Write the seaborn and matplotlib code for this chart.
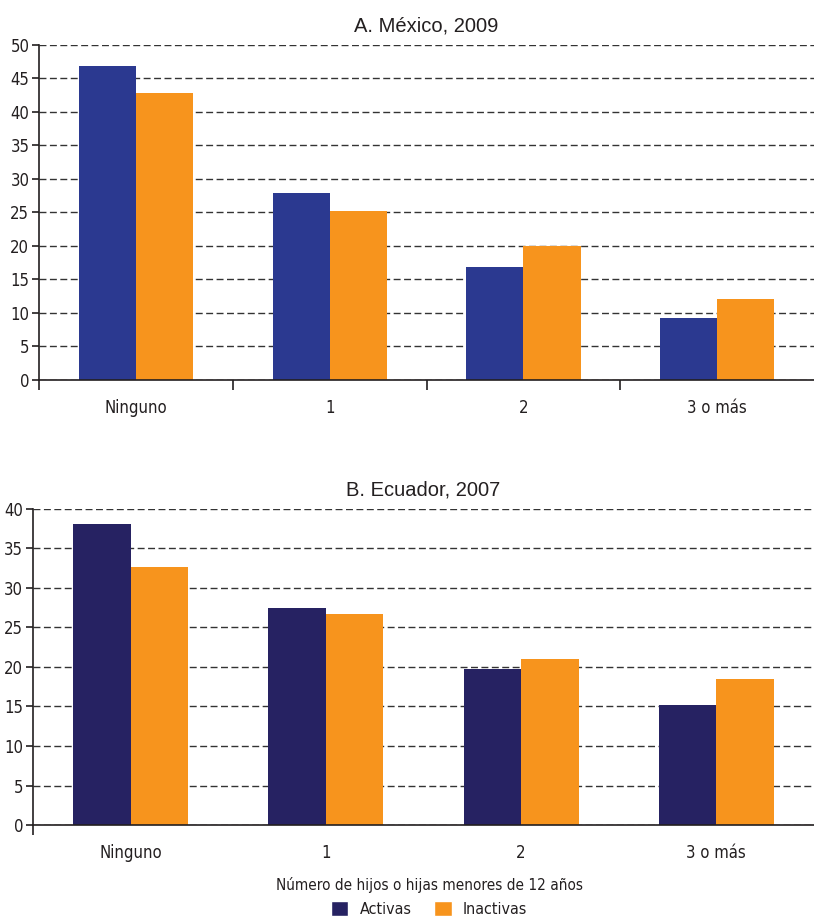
import pandas as pd
import matplotlib.pyplot as plt
import seaborn as sns
from matplotlib.patches import Patch

# Datos
categorias = ['Ninguno', '1', '2', '3 o más']
series = ['Activas', 'Inactivas']
mexico_activas = [46.9, 27.9, 16.9, 9.3]
mexico_inactivas = [42.8, 25.2, 20.0, 12.1]
ecuador_activas = [38.1, 27.5, 19.7, 15.2]
ecuador_inactivas = [32.7, 26.7, 21.0, 18.5]

titulos = ['A. México, 2009', 'B. Ecuador, 2007']
xlabel = 'Número de hijos o hijas menores de 12 años'

AZUL_MX = '#2B3990'
AZUL_EC = '#262262'
NARANJA = '#F7941D'
TEXTO = '#231F20'


def armar_df(activas, inactivas):
    return pd.DataFrame({
        'categoria': categorias * 2,
        'serie': ['Activas'] * 4 + ['Inactivas'] * 4,
        'valor': activas + inactivas,
    })


sns.set_theme(style='white')
plt.rcParams['font.family'] = ['DejaVu Sans']
plt.rcParams['font.stretch'] = 'condensed'
plt.rcParams['text.color'] = TEXTO
plt.rcParams['axes.labelcolor'] = TEXTO
plt.rcParams['xtick.color'] = TEXTO
plt.rcParams['ytick.color'] = TEXTO

fig = plt.figure(figsize=(8.14, 9.17), dpi=100)
ax1 = fig.add_axes([0.048, 0.5856, 0.952, 0.3654])
ax2 = fig.add_axes([0.0405, 0.1003, 0.9595, 0.3447])

configs = [
    (ax1, armar_df(mexico_activas, mexico_inactivas), AZUL_MX, 50, titulos[0]),
    (ax2, armar_df(ecuador_activas, ecuador_inactivas), AZUL_EC, 40, titulos[1]),
]

for i, (ax, df, azul, ymax, titulo) in enumerate(configs):
    sns.barplot(data=df, x='categoria', y='valor', hue='serie',
                palette=[azul, NARANJA], width=0.59, gap=0,
                saturation=1, linewidth=0, ax=ax, legend=False)
    ax.set_xlim(-0.5, 3.5)
    ax.set_ylim(0, ymax)
    ax.set_yticks(range(0, ymax + 1, 5))
    ax.set_axisbelow(True)
    ax.yaxis.grid(True, linestyle=(0, (5, 2.5)), color='#333333', linewidth=1)
    for s in ['top', 'right']:
        ax.spines[s].set_visible(False)
    for s in ['left', 'bottom']:
        ax.spines[s].set_color(TEXTO)
        ax.spines[s].set_linewidth(1.2)
    ax.tick_params(axis='y', left=True, length=5, width=1.2, labelsize=12, pad=2)
    ax.tick_params(axis='x', bottom=False, labelsize=12, pad=8)
    ax.set_xlabel('')
    ax.set_ylabel('')
    ax.set_title(titulo, fontsize=14.5, family=['Liberation Sans', 'DejaVu Sans'],
                 fontstretch='normal', pad=10)

    # marcas entre categorías (solo en el panel A), y marca en el origen
    limites = [-0.5, 0.5, 1.5, 2.5] if i == 0 else [-0.5]
    ax.set_xticks(limites, minor=True)
    ax.tick_params(axis='x', which='minor', bottom=True, length=7, width=1.2,
                   direction='out', color=TEXTO)

fig.text(0.528, 0.035, xlabel, ha='center', va='center', fontsize=11)

handles = [Patch(facecolor=AZUL_EC, label='Activas'),
           Patch(facecolor=NARANJA, label='Inactivas')]
fig.legend(handles=handles, loc='center', bbox_to_anchor=(0.527, 0.009),
           ncol=2, frameon=False, fontsize=11.5, handlelength=1.1,
           handleheight=1.1, handletextpad=0.7, columnspacing=1.4)

fig.savefig('out.png', dpi=100)
